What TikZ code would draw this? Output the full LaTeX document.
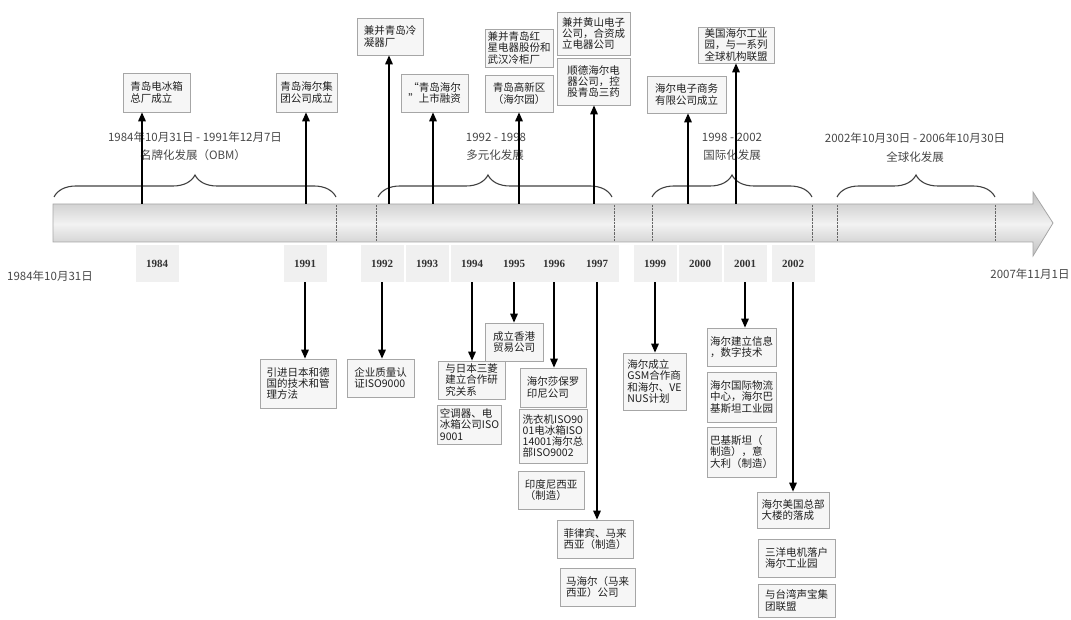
\documentclass[tikz,border=0pt]{standalone}
\usepackage{fontspec}
\setmainfont{Liberation Serif}
\newfontfamily\cjk{Noto Sans CJK SC}
\usetikzlibrary{arrows.meta,decorations.pathreplacing}

\begin{document}
\begin{tikzpicture}[x=1pt, y=-1pt,
    box/.style={draw=gray!70, fill=gray!7, line width=0.7pt, text=black!88,
        font=\cjk\fontsize{10.5}{11.2}\selectfont, align=left,
        inner xsep=2.5pt, inner ysep=1.2pt},
    tag/.style={fill=gray!12, minimum width=43pt, minimum height=37pt,
        text=black!80, font=\bfseries\fontsize{11}{11}\selectfont},
    lbl/.style={text=black!72, font=\cjk\fontsize{11.5}{14}\selectfont},
    uparr/.style={line width=1.5pt, -{Triangle[length=9pt,width=7.5pt]}},
    brc/.style={decorate, decoration={brace, amplitude=22pt},
        line width=1.1pt, black!75}]
    \useasboundingbox (0,0) rectangle (1071,620);

    % the time bar
    \draw[gray!70, line width=0.8pt, top color=gray!50, bottom color=gray!50, middle color=gray!10]
        (53,204) -- (1033,204) -- (1033,192) -- (1053,223) -- (1033,256)
        -- (1033,242) -- (53,242) -- cycle;
    \foreach \x in {336,376,614,652,812,837,995}
        \draw[densely dotted, black!60] (\x,205) -- (\x,241);

    % periods
    \draw[brc] (54,197) -- (336,197);
    \draw[brc, decoration={aspect=0.47}] (378,197) -- (612,197);
    \draw[brc] (652,197) -- (812,197);
    \draw[brc] (837,197) -- (995,197);

    \node[lbl] (p1a) at (195,137) {1984年10月31日 - 1991年12月7日};
    \node[lbl] (p1b) at (193,155) {名牌化发展（OBM）};
    \node[lbl] (p2a) at (496,137) {1992 - 1998};
    \node[lbl] (p2b) at (495,155) {多元化发展};
    \node[lbl] (p3a) at (732,137) {1998 - 2002};
    \node[lbl] (p3b) at (732,155) {国际化发展};
    \node[lbl] (p4a) at (915,138) {2002年10月30日 - 2006年10月30日};
    \node[lbl] (p4b) at (915,157) {全球化发展};

    \node[lbl] (tstart) at (50,276) {1984年10月31日};
    \node[lbl] (tend) at (1030,274) {2007年11月1日};

    % years
    \foreach \y/\x in {1984/157, 1991/305, 1992/382, 1993/427, 1994/472,
        1995/514, 1996/554, 1997/597, 1999/655, 2000/700, 2001/745, 2002/793}
        \node[tag] (t\y) at (\x,263.5) {\y};

    % above the bar
    \node[box, minimum width=67pt, minimum height=39pt] (b84) at (156.5,92.5) {青岛电冰箱\\总厂成立};
    \node[box, minimum width=61pt, minimum height=39pt] (b91) at (306.5,92.5) {青岛海尔集\\团公司成立};
    \node[box, minimum width=66pt, minimum height=37pt] (b92) at (390,36.5) {兼并青岛冷\\凝器厂};
    \node[box, minimum width=67pt, minimum height=38pt] (b93) at (434.5,93) {“青岛海尔\\”上市融资};
    \node[box, minimum width=68pt, minimum height=38pt] (b95top) at (519,48) {兼并青岛红\\星电器股份和\\武汉冷柜厂};
    \node[box, minimum width=68pt, minimum height=37pt] (b95) at (519,93.5) {青岛高新区\\（海尔园）};
    \node[box, minimum width=73pt, minimum height=43pt] (b97top) at (593.5,33.5) {兼并黄山电子\\公司，合资成\\立电器公司};
    \node[box, minimum width=73pt, minimum height=47pt] (b97) at (593.5,81.5) {顺德海尔电\\器公司，控\\股青岛三药};
    \node[box, minimum width=79pt, minimum height=37pt] (b00) at (686.5,94.5) {海尔电子商务\\有限公司成立};
    \node[box, minimum width=76pt, minimum height=36pt] (b01) at (736,45) {美国海尔工业\\园，与一系列\\全球机构联盟};

    \foreach \n/\x in {84/142, 91/306, 92/389, 93/433, 95/519, 97/594, 00/688, 01/736} {
        \coordinate (u\n) at (\x,204);
        \draw[uparr] (u\n) -- (u\n |- b\n.south);
    }

    % below the bar
    \node[box, minimum width=76pt, minimum height=49pt] (d1991) at (298,383.5) {引进日本和德\\国的技术和管\\理方法};
    \node[box, minimum width=67pt, minimum height=38pt] (d1992) at (380.5,378) {企业质量认\\证ISO9000};
    \node[box, minimum width=67pt, minimum height=38pt] (d1994) at (471.5,380) {与日本三菱\\建立合作研\\究关系};
    \node[box, minimum width=63pt, minimum height=39pt] (d94b) at (469.5,424.5) {空调器、电\\冰箱公司ISO\\9001};
    \node[box, minimum width=58pt, minimum height=38pt] (d1995) at (514,342) {成立香港\\贸易公司};
    \node[box, minimum width=66pt, minimum height=39pt] (d1996) at (553,387.5) {海尔莎保罗\\印尼公司};
    \node[box, minimum width=68pt, minimum height=54pt] (d96b) at (553,436) {洗衣机ISO90\\01电冰箱ISO\\14001海尔总\\部ISO9002};
    \node[box, minimum width=66pt, minimum height=38pt] (d96c) at (551,490) {印度尼西亚\\（制造）};
    \node[box, minimum width=76pt, minimum height=38pt] (d1997) at (595,539) {菲律宾、马来\\西亚（制造）};
    \node[box, minimum width=75pt, minimum height=38pt] (d97b) at (597.5,587) {马海尔（马来\\西亚）公司};
    \node[box, minimum width=63pt, minimum height=57pt] (d1999) at (654.5,381.5) {海尔成立\\GSM合作商\\和海尔、VE\\NUS计划};
    \node[box, minimum width=69pt, minimum height=38pt] (d2001) at (741.5,347) {海尔建立信息\\，数字技术};
    \node[box, minimum width=69pt, minimum height=50pt] (d01b) at (741.5,397) {海尔国际物流\\中心，海尔巴\\基斯坦工业园};
    \node[box, minimum width=69pt, minimum height=50pt] (d01c) at (741.5,452) {巴基斯坦（\\制造），意\\大利（制造）};
    \node[box, minimum width=72pt, minimum height=36pt] (d2002) at (793,510) {海尔美国总部\\大楼的落成};
    \node[box, minimum width=77pt, minimum height=38pt] (d02b) at (796.5,558) {三洋电机落户\\海尔工业园};
    \node[box, minimum width=77pt, minimum height=33pt] (d02c) at (796.5,600.5) {与台湾声宝集\\团联盟};

    \foreach \y in {1991,1992,1994,1995,1996,1997,1999,2001,2002}
        \draw[uparr] (t\y.south) -- (t\y.south |- d\y.north);
\end{tikzpicture}
\end{document}
